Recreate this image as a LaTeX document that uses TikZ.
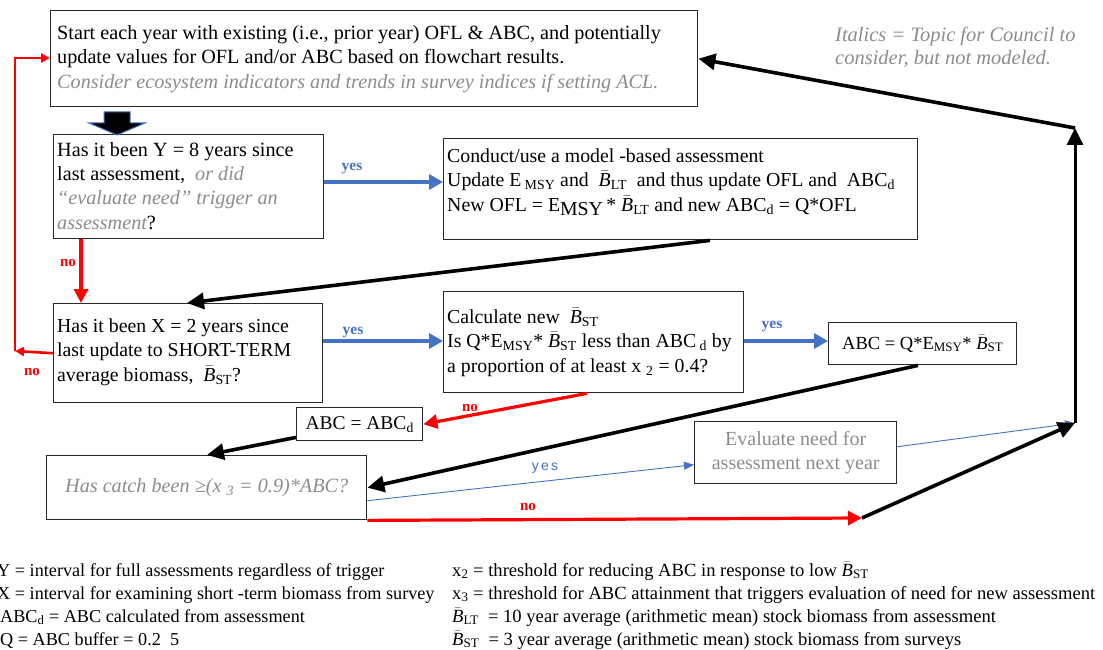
\documentclass[tikz,border=0pt]{standalone}
\usepackage{fontspec}
\setmainfont{Liberation Serif}
\newfontfamily\sansf{Liberation Sans}
\usetikzlibrary{arrows.meta,calc}
\definecolor{myblue}{RGB}{68,114,196}
\definecolor{mygray}{RGB}{140,140,140}
\definecolor{myred}{RGB}{255,0,0}
\definecolor{edge}{RGB}{40,40,40}
\newcommand{\Bb}[1]{$\bar{\mathit{B}}$\textsubscript{#1}}
\newcommand{\gi}[1]{{\color{mygray}\itshape #1}}
\begin{document}
\begin{tikzpicture}[x=1pt,y=-1pt,
  box/.style={draw=edge, line width=1.4pt, inner sep=0pt, rectangle, anchor=north west},
  big/.style={font=\fontsize{20.2}{24.2}\selectfont},
  mid/.style={font=\fontsize{19.8}{24.5}\selectfont},
  leg/.style={font=\fontsize{18.2}{20}\selectfont, inner sep=0pt, anchor=base west},
  legr/.style={font=\fontsize{18.6}{20}\selectfont, inner sep=0pt, anchor=base west},
  txt/.style={inner sep=0pt, align=left, anchor=west},
  blk/.style={draw=black, line width=3.6pt, -{Triangle[length=17pt,width=16pt]}},
  redarr/.style={draw=myred, line width=3.2pt, -{Triangle[length=14pt,width=14pt]}},
  redthin/.style={draw=myred, line width=2.6pt, -{Triangle[length=9pt,width=9pt]}},
  bluearr/.style={draw=myblue, line width=3.4pt, -{Triangle[length=14pt,width=15pt]}},
  thinblue/.style={draw=myblue, line width=0.9pt, -{Triangle[length=10pt,width=8pt]}},
  yeslab/.style={text=myblue, font=\fontsize{15.5}{16}\selectfont\bfseries, inner sep=0pt},
  nolab/.style={text=myred, font=\fontsize{15}{16}\selectfont\bfseries, inner sep=0pt},
]
\useasboundingbox (0,0) rectangle (1103,650);

% boxes
\node[box, minimum width=647pt, minimum height=96pt] (top) at (50,10) {};
\node[box, minimum width=270pt, minimum height=104pt] (Y) at (53,134) {};
\node[box, minimum width=474pt, minimum height=101pt] (model) at (443,138) {};
\node[box, minimum width=269pt, minimum height=99pt] (X) at (53,303) {};
\node[box, minimum width=300pt, minimum height=101pt] (calc) at (443,291) {};
\node[box, minimum width=188pt, minimum height=42pt, font=\fontsize{18.5}{20}\selectfont] (ABC) at (828,322) {ABC = Q*E\textsubscript{MSY}* \Bb{ST}};
\node[box, minimum width=126pt, minimum height=33pt, font=\fontsize{19.5}{20}\selectfont] (ABCd) at (296,407) {ABC = ABC\textsubscript{d}};
\node[box, minimum width=320pt, minimum height=64pt, big, text=mygray] (catch) at (46,455) {\itshape Has catch been ≥(x\ \textsubscript{3} = 0.9)*ABC?};
\node[box, minimum width=202pt, minimum height=62pt, align=center, text=mygray, font=\fontsize{20}{24}\selectfont] (eval) at (694,421) {Evaluate need for\\assessment next year};

% texts
\node[txt, big] (topt) at (57,59) {Start each year with existing (i.e., prior year) OFL \& ABC, and potentially\\update values for OFL and/or ABC based on flowchart results.\\\gi{Consider ecosystem indicators and trends in survey indices if setting ACL.}};
\node[txt, big] (Yt) at (57,186) {Has it been Y = 8 years since\\last assessment, \ \gi{or did}\\\gi{``evaluate need'' trigger an}\\\gi{assessment}?};
\node[txt, mid] (modelt) at (447,182) {Conduct/use a model -based assessment\\Update E\,\textsubscript{MSY} and \ \Bb{LT} \ and thus update OFL and \ ABC\textsubscript{d}\\New OFL = E\raisebox{-4pt}{MSY}\,* \Bb{LT} and new ABC\textsubscript{d} = Q*OFL};
\node[txt, mid] (Xt) at (57,352) {Has it been X = 2 years since\\last update to SHORT-TERM\\average biomass, \ \Bb{ST}?};
\node[txt, mid] (calct) at (447,342) {Calculate new \ \Bb{ST}\\Is Q*E\textsubscript{MSY}* \Bb{ST} less than ABC\,\textsubscript{d} by\\a proportion of at least x\ \textsubscript{2} = 0.4?};
\node[txt, text=mygray, font=\fontsize{20.5}{23}\selectfont\itshape] (note) at (835,47) {Italics = Topic for Council to\\consider, but not modeled.};

% big block arrow
\fill[black, draw=myblue, line width=1pt] (104,112) -- (130,112) -- (130,123) -- (145,123) -- (117,135) -- (89,123) -- (104,123) -- cycle;

% junction points
\coordinate (lc) at (15,351);
\coordinate (lt) at (15,58);
\coordinate (rn) at (862,518);
\coordinate (j1) at (1075,423);
\coordinate (j2) at (1075,128);

% connectors
\draw[bluearr] (Y.east |- 0,182) -- (model.west |- 0,182);
\draw[bluearr] (X.east |- 0,341) -- (calc.west |- 0,341);
\draw[bluearr] (calc.east |- 0,341) -- (ABC.west |- 0,341);
\draw[redarr] ($(Y.south west)+(28,0)$) -- ($(X.north west)+(28,0)$);
\draw[blk] ($(model.south west)+(267,0)$) -- ($(X.north west)+(134,0)$);
\draw[redthin] (X.west) -- (lc);
\draw[redthin] (lc) -- (lt) -- (top.west |- lt);
\draw[redarr] ($(calc.south west)+(144,0)$) -- (ABCd.east);
\draw[blk] ($(ABC.south west)+(90,0)$) -- (catch.east);
\draw[blk] ($(ABCd.south west)+(0,-4)$) -- ($(catch.north west)+(161,0)$);
\draw[redarr] (catch.south east) -- (rn);
\draw[thinblue] ($(catch.east)+(0,13)$) -- ($(eval.west)+(0,12)$);
\draw[thinblue] ($(eval.east)+(0,-6)$) -- (j1);
\draw[blk] (rn) -- (j1);
\draw[blk, line width=3pt] (j1) -- (j2);
\draw[blk] (j2) -- (top.east);

% labels
\node[yeslab] (y1) at (352,169) {yes};
\node[yeslab] (y2) at (353,333) {yes};
\node[yeslab] (y3) at (772,327) {yes};
\node[text=myblue, font=\sansf\fontsize{14}{14}\selectfont, inner sep=0pt] (y4) at (545,468) {y\,e\,s};
\node[nolab] (n1) at (68,263) {no};
\node[nolab] (n2) at (32,372) {no};
\node[nolab] (n3) at (470,408) {no};
\node[nolab] (n4) at (528,507) {no};

% legend
\node[leg] (l1) at (-3,576) {Y = interval for full assessments regardless of trigger};
\node[leg] (l2) at (-3,599) {X = interval for examining short -term biomass from survey};
\node[leg] (l3) at (0,622) {ABC\textsubscript{d} = ABC calculated from assessment};
\node[leg] (l4) at (0,645) {Q = ABC buffer = 0.2 \ 5};
\node[legr] (r1) at (452,576) {x\textsubscript{2} = threshold for reducing ABC in response to low \Bb{ST}};
\node[legr] (r2) at (452,599) {x\textsubscript{3} = threshold for ABC attainment that triggers evaluation of need for new assessment};
\node[legr] (r3) at (452,622) {\Bb{LT} \ = 10 year average (arithmetic mean) stock biomass from assessment};
\node[legr] (r4) at (452,645) {\Bb{ST} \ = 3 year average (arithmetic mean) stock biomass from surveys};
\end{tikzpicture}
\end{document}
